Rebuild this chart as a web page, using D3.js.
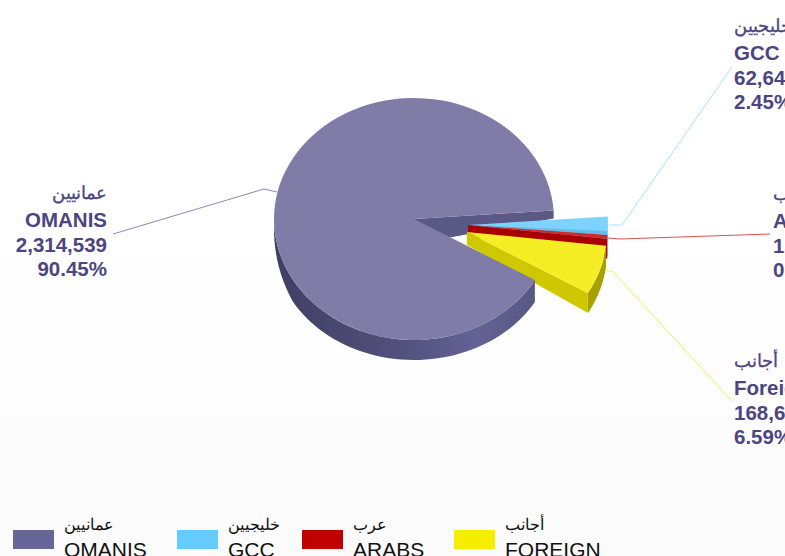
<!DOCTYPE html>
<html>
<head>
<meta charset="utf-8">
<script src="https://cdn.jsdelivr.net/npm/d3@7"></script>
<style>
html, body { margin: 0; padding: 0; overflow: hidden; background: #fff; }
text { font-family: "Liberation Sans", Arial, sans-serif; }
</style>
</head>
<body>
<div id="chart"></div>
<script>
// chart values
const namesAr = ["عمانيين", "خليجيين", "عرب", "أجانب"];
const namesEn = ["OMANIS", "GCC", "ARABS", "Foreign"];
const legendEn = ["OMANIS", "GCC", "ARABS", "FOREIGN"];
const values = [2314539, 62645, 13081, 168650];
const shares = ["90.45%", "2.45%", "0.51%", "6.59%"];

// colours per slice
const topColors = ["#7f7da8", "#7dd3ff", "#cf2a2a", "#f5ee25"];
const wallColors = ["#5a5885", "#62bcec", "#a80000", "#cfc800"];
const rimColors = ["#5f5d8f", "#55b0e0", "#a80000", "#a89f00"];
const legendColors = ["#666699", "#66ccff", "#c00000", "#f5ee00"];
const lineColors = ["#8a88b5", "#a8e0ff", "#d85050", "#f2ee50"];

const width = 785, height = 556;
const cx = 414, cy = 219, rx = 140, ry = 121;

// how far each slice is pulled out of the pie
const pullX = [0, 54, 54, 53];
const pullY = [0, 6, 6, 13];

// height of the flat cut wall at the tip and at the rim
const cutTip = [25, 4, 12, 13];
const cutRim = [8, 4, 20, 20];

// the round wall gets taller towards the viewer (fake perspective)
const rimDepth = d3.scaleLinear()
    .domain([219, 280, 340])
    .range([10, 22, 20])
    .clamp(true);

const svg = d3.select("#chart")
    .append("svg")
    .attr("width", width)
    .attr("height", height);

const defs = svg.append("defs");

const bg = defs.append("linearGradient")
    .attr("id", "bg")
    .attr("x1", 0).attr("y1", 0).attr("x2", 0).attr("y2", 1);
bg.append("stop").attr("offset", "40%").attr("stop-color", "#ffffff");
bg.append("stop").attr("offset", "100%").attr("stop-color", "#fbfbfb");

svg.append("rect")
    .attr("width", width)
    .attr("height", height)
    .attr("fill", "url(#bg)");

// round wall shading of the big slice
const side = defs.append("linearGradient")
    .attr("id", "side")
    .attr("gradientUnits", "userSpaceOnUse")
    .attr("x1", cx - rx).attr("y1", 0)
    .attr("x2", cx + rx).attr("y2", 0);
side.append("stop").attr("offset", "0%").attr("stop-color", "#3f3e63");
side.append("stop").attr("offset", "50%").attr("stop-color", "#55537f");
side.append("stop").attr("offset", "72%").attr("stop-color", "#646294");
side.append("stop").attr("offset", "100%").attr("stop-color", "#55537f");

// first slice starts below the 3 o'clock line and runs clockwise
const startAngle = 120.3 * Math.PI / 180;
const pie = d3.pie()
    .sort(null)
    .startAngle(startAngle)
    .endAngle(startAngle + 2 * Math.PI)
    .value(d => d);

const slices = pie(values);
const arc = d3.arc().innerRadius(0).outerRadius(rx);
const line = d3.line();

// point of the ellipse for a d3 arc angle
function rim(a, i) {
    return [cx + pullX[i] + rx * Math.sin(a), cy + pullY[i] - ry * Math.cos(a)];
}

function center(i) {
    return [cx + pullX[i], cy + pullY[i]];
}

// outer wall, only the part that faces the viewer
function outerWall(d, i) {
    const a0 = d.startAngle % (2 * Math.PI);
    const a1 = Math.min(a0 + d.endAngle - d.startAngle, 1.5 * Math.PI);
    const top = d3.range(0, 61).map(k => rim(a0 + (a1 - a0) * k / 60, i));
    const depth = i === 0 ? p => rimDepth(p[1]) : () => cutRim[i];
    const bottom = top.slice().reverse().map(p => [p[0], p[1] + depth(p)]);
    return line(top.concat(bottom)) + "Z";
}

// flat wall along one cut edge
function cutWall(i, a) {
    const c = center(i), p = rim(a, i);
    return line([c, p, [p[0], p[1] + cutRim[i]], [c[0], c[1] + cutTip[i]]]) + "Z";
}

function topFace(i) {
    const d = slices[i];
    svg.append("path")
        .attr("transform", "translate(" + center(i) + ") scale(1," + (ry / rx) + ")")
        .attr("d", arc.startAngle(d.startAngle).endAngle(d.endAngle)())
        .attr("fill", topColors[i]);
}

function outerFace(i) {
    svg.append("path")
        .attr("d", outerWall(slices[i], i))
        .attr("fill", i === 0 ? "url(#side)" : rimColors[i]);
}

function cutFace(i, a) {
    svg.append("path")
        .attr("d", cutWall(i, a))
        .attr("fill", wallColors[i]);
}

// back to front: the big slice's inner wall goes behind the wedges,
// its front goes over the yellow wall
cutFace(0, slices[0].endAngle);

[1, 2, 3].forEach(i => {
    outerFace(i);
    cutFace(i, slices[i].endAngle);
    topFace(i);

    // darker band along the lower edge of the blue slice
    if (i === 1) {
        const gccEnd = rim(slices[1].endAngle, 1);
        svg.append("path")
            .attr("d", line([center(1), gccEnd, [gccEnd[0], gccEnd[1] - cutRim[1]]]) + "Z")
            .attr("fill", wallColors[1]);
    }
});

outerFace(0);
topFace(0);

// leader lines
const leaders = [
    [[113, 234], [264, 189], [277, 192]],
    [[609, 225], [622, 225], [732, 67]],
    [[608, 238], [620, 239], [770, 234]],
    [[605, 270], [613, 272], [732, 401]]
];

leaders.forEach((pts, i) => {
    svg.append("path")
        .attr("d", line(pts))
        .attr("fill", "none")
        .attr("stroke", lineColors[i])
        .attr("stroke-width", 1);
});

// labels
const labelX = [107, 734, 773, 734];
const labelAnchor = ["end", "start", "start", "start"];
const labelY = [194, 27, 195, 362];

labelX.forEach((x, i) => {
    const g = svg.append("g")
        .attr("transform", "translate(" + x + "," + labelY[i] + ")")
        .attr("fill", "#4c4580")
        .attr("font-weight", "bold")
        .attr("text-anchor", labelAnchor[i]);
    g.append("text")
        .attr("y", 5)
        .attr("font-size", 18)
        .attr("font-weight", "normal")
        .attr("stroke", "#4c4580")
        .attr("stroke-width", 0.3)
        .attr("direction", "ltr")
        .text(namesAr[i]);
    g.append("text").attr("y", 33).attr("font-size", 20.5).text(namesEn[i]);
    g.append("text").attr("y", 57.5).attr("font-size", 20.5).text(d3.format(",")(values[i]));
    g.append("text").attr("y", 82).attr("font-size", 20.5).text(shares[i]);
});

// legend
const legendX = [13, 177, 302, 454];
const legendTextX = [64, 228, 353, 505];

legendX.forEach((x, i) => {
    svg.append("rect")
        .attr("x", x).attr("y", 530)
        .attr("width", 41).attr("height", 19)
        .attr("fill", legendColors[i]);
    svg.append("text")
        .attr("x", legendTextX[i]).attr("y", 530)
        .attr("font-size", 16).attr("fill", "#111")
        .attr("direction", "ltr")
        .text(namesAr[i]);
    svg.append("text")
        .attr("x", legendTextX[i]).attr("y", 557)
        .attr("font-size", 21).attr("fill", "#111")
        .text(legendEn[i]);
});
</script>
</body>
</html>
